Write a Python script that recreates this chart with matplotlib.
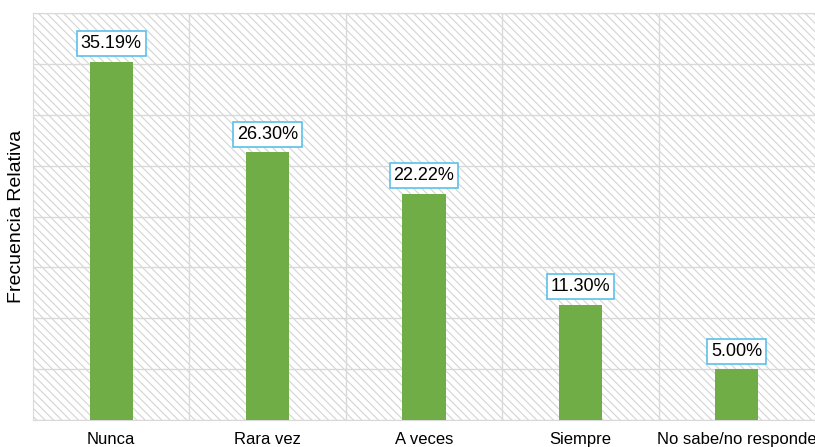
import matplotlib
matplotlib.use("Agg")
import matplotlib.pyplot as plt
from matplotlib.patches import Rectangle

# ───────────── data ─────────────
categories = ["Nunca", "Rara vez", "A veces", "Siempre", "No sabe/no responde"]
values = [35.19, 26.30, 22.22, 11.30, 5.00]
labels = ["35.19%", "26.30%", "22.22%", "11.30%", "5.00%"]

plt.rcParams["font.family"] = ["Liberation Sans", "DejaVu Sans"]
plt.rcParams["hatch.color"] = "#d4d4d4"
plt.rcParams["hatch.linewidth"] = 0.8

fig = plt.figure(figsize=(8.15, 4.47), dpi=100)
ax = fig.add_axes([33 / 815, 27 / 447, 782 / 815, 407 / 447])

# hatched background
ax.add_patch(Rectangle((0, 0), 1, 1, transform=ax.transAxes, facecolor="white",
                       edgecolor="#d4d4d4", hatch="\\\\\\\\", linewidth=0, zorder=0))

x = range(len(categories))
ax.bar(x, values, width=0.275, color="#70ad47", zorder=3)

for xi, v, lab in zip(x, values, labels):
    ax.annotate(lab, (xi, v), xytext=(0, 13), textcoords="offset points",
                ha="center", va="center", fontsize=13, zorder=4,
                bbox=dict(boxstyle="square,pad=0.22", facecolor="white",
                          edgecolor="#5bc0eb", linewidth=1.2))

ax.set_xlim(-0.5, 4.5)
ax.set_ylim(0, 40)
ax.set_yticks(range(0, 41, 5))
ax.set_yticklabels([])
ax.set_xticks(x)
ax.set_xticklabels(categories, fontsize=12)
ax.set_xticks([0.5, 1.5, 2.5, 3.5], minor=True)
ax.tick_params(axis="both", which="both", length=0)
ax.tick_params(axis="x", which="major", pad=8.5)

ax.grid(axis="y", which="major", color="#d9d9d9", linewidth=1, zorder=1)
ax.grid(axis="x", which="minor", color="#d9d9d9", linewidth=1, zorder=1)
ax.grid(axis="x", which="major", visible=False)
ax.set_axisbelow(True)
for s in ax.spines.values():
    s.set_color("#d9d9d9")

ax.set_ylabel("Frecuencia Relativa", fontsize=14)
ax.yaxis.set_label_coords(-8 / 782, 0.5)

fig.savefig("out.png", dpi=100)
